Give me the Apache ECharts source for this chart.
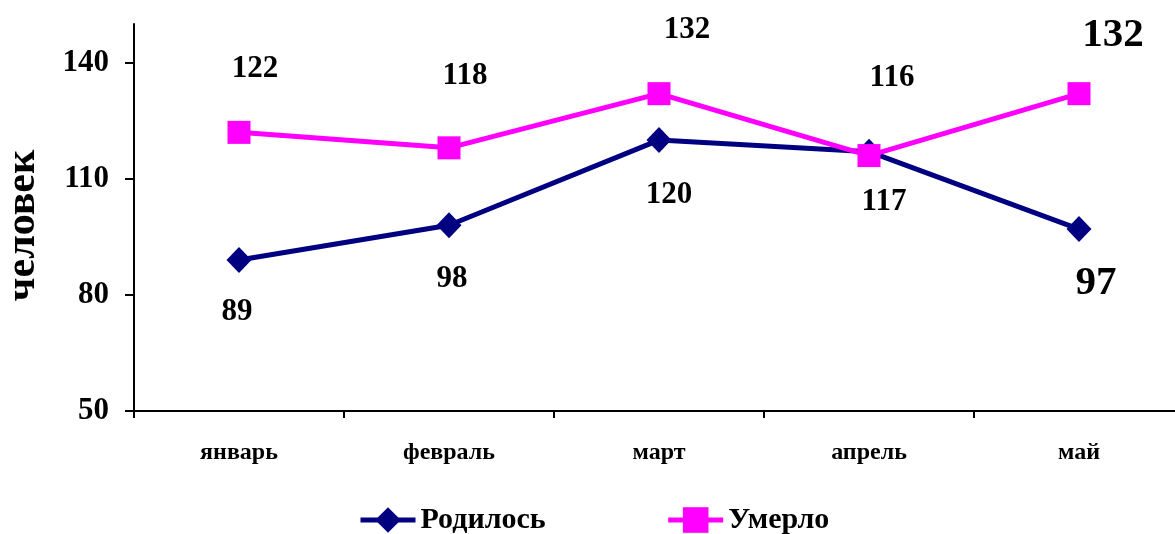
<!DOCTYPE html>
<html>
<head>
<meta charset="utf-8">
<script src="https://cdn.jsdelivr.net/npm/echarts@6/dist/echarts.min.js"></script>
<style>
html,body{margin:0;padding:0;background:#fff;}
#chart{width:1175px;height:534px;}
</style>
</head>
<body>
<div id="chart"></div>
<script>
const months = ['январь', 'февраль', 'март', 'апрель', 'май'];
const born = [89, 98, 120, 117, 97];
const died = [122, 118, 132, 116, 132];
const yTicks = [50, 80, 110, 140];
const seriesNames = ['Родилось', 'Умерло'];
const yName = 'человек';

// label placement (style only)
const diedOffsets = [[16, -63], [16, -72], [28, -64], [23, -78], [34, -58]];
const bornOffsets = [[-2, 52], [3, 54], [10, 55], [15, 50], [17, 54]];

const FONT = "'Liberation Serif', 'Times New Roman', serif";

function withLabels(values, offsets) {
  return values.map((v, i) => ({
    value: v,
    label: {
      offset: offsets[i],
      fontSize: i === values.length - 1 ? 41 : 31
    }
  }));
}

const chart = echarts.init(document.getElementById('chart'), null, {renderer: 'canvas'});
chart.setOption({
  animation: false,
  backgroundColor: '#ffffff',
  textStyle: {fontFamily: FONT, fontWeight: 'bold', color: '#000'},
  grid: {left: 134, top: 24, width: 1050, bottom: 123, containLabel: false, outerBoundsMode: 'none'},
  legend: {
    left: 358,
    top: 505,
    padding: 0,
    itemWidth: 55,
    itemHeight: 32,
    itemGap: 120,
    lineStyle: {width: 5},
    textStyle: {fontFamily: FONT, fontWeight: 'bold', fontSize: 30, color: '#000'},
    data: seriesNames
  },
  xAxis: {
    type: 'category',
    data: months,
    boundaryGap: true,
    axisLine: {lineStyle: {color: '#000', width: 2}},
    axisTick: {show: true, length: 7, lineStyle: {color: '#000', width: 2}},
    axisLabel: {fontFamily: FONT, fontWeight: 'bold', fontSize: 24, color: '#000', margin: 30},
    splitLine: {show: false}
  },
  yAxis: {
    type: 'value',
    min: 50,
    max: 150,
    interval: 30,
    name: yName,
    nameLocation: 'middle',
    nameRotate: 90,
    nameGap: 90,
    nameTextStyle: {fontFamily: FONT, fontWeight: 'bold', fontSize: 42, color: '#000', padding: [0, 16, 0, 0]},
    axisLine: {show: true, lineStyle: {color: '#000', width: 2}},
    axisTick: {show: true, length: 9, inside: false, customValues: yTicks, lineStyle: {color: '#000', width: 2}},
    axisLabel: {fontFamily: FONT, fontWeight: 'bold', fontSize: 31, color: '#000', margin: 25, customValues: yTicks},
    splitLine: {show: false}
  },
  series: [
    {
      name: seriesNames[0],
      type: 'line',
      data: withLabels(born, bornOffsets),
      symbol: 'diamond',
      symbolSize: [25, 26],
      itemStyle: {color: '#000080'},
      lineStyle: {color: '#000080', width: 5},
      label: {show: true, position: 'inside', fontFamily: FONT, fontWeight: 'bold', color: '#000'},
      z: 2
    },
    {
      name: seriesNames[1],
      type: 'line',
      data: withLabels(died, diedOffsets),
      symbol: 'rect',
      symbolSize: 23,
      itemStyle: {color: '#FF00FF'},
      lineStyle: {color: '#FF00FF', width: 5},
      label: {show: true, position: 'inside', fontFamily: FONT, fontWeight: 'bold', color: '#000'},
      z: 3
    }
  ]
});
</script>
</body>
</html>
